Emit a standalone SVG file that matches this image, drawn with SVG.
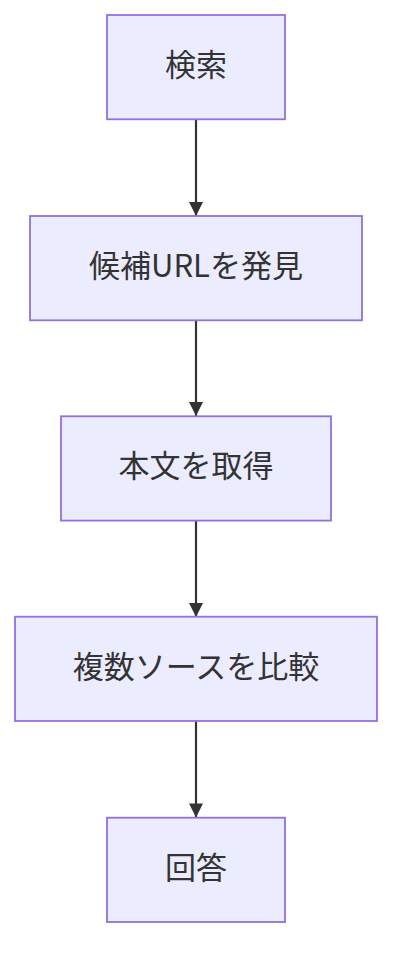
<svg xmlns="http://www.w3.org/2000/svg" width="408" height="972" viewBox="0 0 408 972">
<defs>
<style>
.node rect{fill:#ECECFF;stroke:#9370DB;stroke-width:1.8}
.node text{font-family:"Noto Sans CJK JP","Noto Sans",sans-serif;font-size:31px;fill:#333333;text-anchor:middle}
.edge{stroke:#333333;stroke-width:2.2;fill:none}
</style>
<marker id="arrow" viewBox="0 0 10 10" refX="10" refY="5" markerUnits="userSpaceOnUse" markerWidth="16" markerHeight="14" orient="auto">
<path d="M0,0 L10,5 L0,10 z" fill="#333333"/>
</marker>
</defs>
<g id="edges">
<path class="edge" d="M196,119.5 L196,216" marker-end="url(#arrow)"/>
<path class="edge" d="M196,320 L196,416" marker-end="url(#arrow)"/>
<path class="edge" d="M196,520.5 L196,617" marker-end="url(#arrow)"/>
<path class="edge" d="M196,721 L196,817.5" marker-end="url(#arrow)"/>
</g>
<g id="n1" class="node"><rect x="107" y="15" width="178" height="104.3"/><text x="196" y="76">検索</text></g>
<g id="n2" class="node"><rect x="30" y="216" width="332" height="104.3"/><text x="196" y="277">候補URLを発見</text></g>
<g id="n3" class="node"><rect x="61" y="416.3" width="270" height="104.3"/><text x="196" y="477.3">本文を取得</text></g>
<g id="n4" class="node"><rect x="15" y="616.7" width="362" height="104.3"/><text x="196" y="677.7">複数ソースを比較</text></g>
<g id="n5" class="node"><rect x="107" y="817.7" width="178" height="104.3"/><text x="196" y="878.7">回答</text></g>
</svg>
